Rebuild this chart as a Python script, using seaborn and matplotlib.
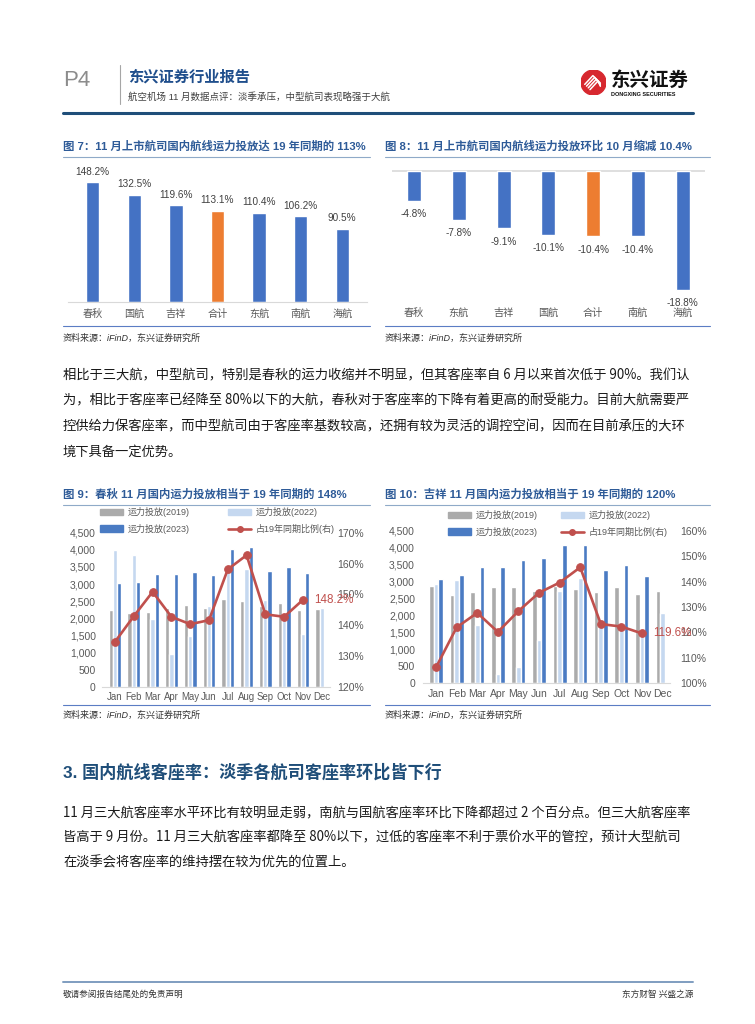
import numpy as np
import pandas as pd
import matplotlib
matplotlib.use('Agg')
import matplotlib.pyplot as plt
import seaborn as sns
from matplotlib.patches import Patch, Circle
from matplotlib.lines import Line2D
from matplotlib.ticker import FuncFormatter, MultipleLocator

# ---- data ----
fig7_airlines = ['春秋', '国航', '吉祥', '合计', '东航', '南航', '海航']
fig7_pct = [148.2, 132.5, 119.6, 113.1, 110.4, 106.2, 90.5]

fig8_airlines = ['春秋', '东航', '吉祥', '国航', '合计', '南航', '海航']
fig8_pct = [-4.8, -7.8, -9.1, -10.1, -10.4, -10.4, -18.8]

months = ['Jan', 'Feb', 'Mar', 'Apr', 'May', 'Jun', 'Jul', 'Aug', 'Sep', 'Oct', 'Nov', 'Dec']

# 春秋 capacity (left axis) and Nov-vs-2019 ratio (right axis, %)
spring_2019 = [2240, 2143, 2182, 2299, 2386, 2299, 2552, 2503, 2357, 2454, 2240, 2260]
spring_2022 = [3993, 3838, 1967, 964, 1480, 2357, 3526, 3438, 2532, 2050, 1539, 2299]
spring_2023 = [3019, 3058, 3282, 3282, 3350, 3263, 4022, 4071, 3380, 3487, 3321, np.nan]
spring_ratio = [134.6, 142.9, 150.8, 142.7, 140.3, 141.6, 158.1, 162.7, 143.5, 142.7, 148.2]

# 吉祥
juneyao_2019 = [2870, 2615, 2693, 2851, 2831, 2723, 2870, 2792, 2685, 2850, 2634, 2733]
juneyao_2022 = [2929, 3047, 1720, 275, 472, 1278, 2733, 3116, 1817, 1670, 1475, 2065]
juneyao_2023 = [3067, 3185, 3441, 3421, 3637, 3696, 4079, 4079, 3332, 3480, 3165, np.nan]
juneyao_ratio = [106.3, 122.0, 127.7, 120.2, 128.4, 135.6, 139.6, 145.6, 123.3, 122.3, 119.6]

series_names = ['运力投放(2019)', '运力投放(2022)', '运力投放(2023)']
ratio_name = '占19年同期比例(右)'

para1 = [
    '相比于三大航，中型航司，特别是春秋的运力收缩并不明显，但其客座率自 6 月以来首次低于 90%。我们认',
    '为，相比于客座率已经降至 80%以下的大航，春秋对于客座率的下降有着更高的耐受能力。目前大航需要严',
    '控供给力保客座率，而中型航司由于客座率基数较高，还拥有较为灵活的调控空间，因而在目前承压的大环',
    '境下具备一定优势。',
]
para2 = [
    '11 月三大航客座率水平环比有较明显走弱，南航与国航客座率环比下降都超过 2 个百分点。但三大航客座率',
    '皆高于 9 月份。11 月三大航客座率都降至 80%以下，过低的客座率不利于票价水平的管控，预计大型航司',
    '在淡季会将客座率的维持摆在较为优先的位置上。',
]

# ---- style ----
sns.set_style('white')
plt.rcParams['font.family'] = ['Liberation Sans', 'Noto Sans CJK SC', 'DejaVu Sans']
plt.rcParams['axes.unicode_minus'] = False

BLUE = '#4472C4'
ORANGE = '#ED7D31'
GRAY = '#ABABAB'
LIGHT = '#C5D8F0'
DARK = '#4A7BC3'
RED = '#C0504D'
TITLE = '#2E5B98'
TICK = '#595959'

W, H = 755, 1024
fig = plt.figure(figsize=(W / 100, H / 100), dpi=100)


def box(x0, y0, x1, y1):
    return fig.add_axes([x0 / W, 1 - y1 / H, (x1 - x0) / W, (y1 - y0) / H])


def put(x, y, s, **kw):
    kw.setdefault('va', 'center')
    fig.text(x / W, 1 - y / H, s, **kw)


def hline(x0, x1, y, color, lw):
    fig.add_artist(Line2D([x0 / W, x1 / W], [1 - y / H, 1 - y / H], color=color, lw=lw))


# ---- header ----
put(63, 80, 'P4', fontsize=16, color='#8C8C8C')
fig.add_artist(Line2D([120 / W, 120 / W], [1 - 65 / H, 1 - 104 / H], color='#A6A6A6', lw=0.8))
put(128, 77, '东兴证券行业报告', fontsize=11, weight='bold', color='#1F4E8C')
put(128, 97, '航空机场 11 月数据点评：淡季承压，中型航司表现略强于大航', fontsize=6.8, color='#404040')
hline(63, 693, 113, '#1F4E79', 2.2)

logo = box(581, 70, 606, 95)
logo.set_xlim(-1, 1)
logo.set_ylim(-1, 1)
logo.set_aspect('equal')
logo.axis('off')
logo.add_patch(Circle((0, 0), 1, color='#D7282F'))
for k in range(4):
    d = k * 0.14
    logo.plot([-0.7 + d, -0.05 + d, 0.55], [-0.15 - d, 0.55 - d, -0.05 - d * 0.6], color='white', lw=1.1)
put(611, 81, '东兴证券', fontsize=14, weight='bold', color='#111111')
put(611, 94.5, 'DONGXING SECURITIES', fontsize=4, weight='bold', color='#111111')


def frame(x0, x1, y_title, y_top, y_bottom, y_src, title):
    put(x0, y_title, title, fontsize=8.2, weight='bold', color=TITLE)
    hline(x0, x1, y_top, '#8FAAC8', 0.8)
    hline(x0, x1, y_bottom, '#5B7DC4', 0.8)
    put(x0, y_src, '资料来源：iFinD，东兴证券研究所', fontsize=6.5, style='italic', color='#333333')


# ---- Figure 7 ----
frame(63, 370, 146, 157, 326, 338, '图 7：11 月上市航司国内航线运力投放达 19 年同期的 113%')
ax7 = box(68, 160, 367, 302)
df7 = pd.DataFrame({'airline': fig7_airlines, 'pct': fig7_pct})
pal7 = [ORANGE if a == '合计' else BLUE for a in fig7_airlines]
sns.barplot(data=df7, x='airline', y='pct', hue='airline', palette=pal7, width=0.32,
            saturation=1, legend=False, ax=ax7)
for c in ax7.containers:
    ax7.bar_label(c, fmt='%.1f%%', padding=4, fontsize=7.2, color='#404040')
ax7.set_xlim(-0.595, 6.595)
ax7.set_ylim(0, 175.8)
ax7.set_xlabel('')
ax7.set_ylabel('')
ax7.set_yticks([])
ax7.tick_params(axis='x', length=0, pad=5, labelsize=7.3, labelcolor=TICK)
sns.despine(ax=ax7, left=True)
ax7.spines['bottom'].set_color('#D9D9D9')

# ---- Figure 8 ----
frame(385, 710, 146, 157, 326, 338, '图 8：11 月上市航司国内航线运力投放环比 10 月缩减 10.4%')
ax8 = box(391.7, 165, 705, 305)
df8 = pd.DataFrame({'airline': fig8_airlines, 'pct': fig8_pct})
pal8 = [ORANGE if a == '合计' else BLUE for a in fig8_airlines]
sns.barplot(data=df8, x='airline', y='pct', hue='airline', palette=pal8, width=0.31,
            saturation=1, legend=False, ax=ax8)
for c in ax8.containers:
    ax8.bar_label(c, fmt='%.1f%%', padding=6, fontsize=7.2, color='#404040')
ax8.axhline(0, color='#D9D9D9', lw=1.2, zorder=0)
ax8.set_xlim(-0.5, 6.5)
ax8.set_ylim(-21.25, 0.9)
ax8.set_xlabel('')
ax8.set_ylabel('')
ax8.set_yticks([])
ax8.tick_params(axis='x', length=0, pad=2, labelsize=7.3, labelcolor=TICK)
sns.despine(ax=ax8, left=True, bottom=True)


# ---- Figures 9 / 10 ----
def capacity(rect, xlim, v2019, v2022, v2023, ratio, rlim, lpad, rpad, leg_xy, colsp, xsize):
    ax = box(*rect)
    df = pd.DataFrame({
        'month': months * 3,
        'series': [s for s in series_names for _ in months],
        'value': list(v2019) + list(v2022) + list(v2023),
    })
    sns.barplot(data=df, x='month', y='value', hue='series', order=months,
                hue_order=series_names, palette=[GRAY, LIGHT, DARK], width=0.68,
                saturation=1, errorbar=None, legend=False, ax=ax)
    ax.set_xlim(*xlim)
    ax.set_ylim(0, 4500)
    ax.yaxis.set_major_locator(MultipleLocator(500))
    ax.yaxis.set_major_formatter(FuncFormatter(lambda v, p: f'{v:,.0f}'))
    ax.set_xlabel('')
    ax.set_ylabel('')
    ax.tick_params(axis='both', length=0, labelsize=7.5, labelcolor=TICK)
    ax.tick_params(axis='y', pad=lpad)
    ax.tick_params(axis='x', pad=4, labelsize=xsize)
    sns.despine(ax=ax, left=True)
    ax.spines['bottom'].set_color('#D9D9D9')

    ax2 = ax.twinx()
    line_months = months[:len(ratio)]
    sns.lineplot(x=line_months, y=ratio, ax=ax2, color=RED, lw=1.9, marker='o',
                 markersize=5.5, markeredgecolor=RED, sort=False)
    ax2.set_ylim(*rlim)
    ax2.yaxis.set_major_locator(MultipleLocator(10))
    ax2.yaxis.set_major_formatter(FuncFormatter(lambda v, p: f'{v:.0f}%'))
    ax2.tick_params(axis='y', length=0, labelsize=7.5, labelcolor=TICK, pad=rpad)
    ax2.set_ylabel('')
    for s in ax2.spines.values():
        s.set_visible(False)
    ax2.annotate(f'{ratio[-1]:.1f}%', xy=(line_months[-1], ratio[-1]), xytext=(8, 0),
                 textcoords='offset points', color=RED, fontsize=8.4, va='center', ha='left')

    handles = [Patch(color=GRAY), Patch(color=DARK), Patch(color=LIGHT),
               Line2D([], [], color=RED, lw=1.9, marker='o', markersize=4)]
    labels = [series_names[0], series_names[2], series_names[1], ratio_name]
    fig.legend(handles, labels, loc='upper left', ncol=2, frameon=False,
               bbox_to_anchor=(leg_xy[0] / W, 1 - leg_xy[1] / H), borderpad=0,
               borderaxespad=0, fontsize=6.5, handlelength=2.6, handleheight=0.7,
               handletextpad=0.5, labelspacing=0.75, columnspacing=colsp,
               labelcolor=TICK)
    return ax


frame(63, 370, 494, 505, 705, 715, '图 9：春秋 11 月国内运力投放相当于 19 年同期的 148%')
capacity((101.7, 532.7, 330, 686.7), (-0.71, 11.44), spring_2019, spring_2022, spring_2023,
         spring_ratio, (120, 170), 4.3, 5.5, (100, 507), 4.2, 6.9)

frame(385, 710, 494, 505, 705, 715, '图 10：吉祥 11 月国内运力投放相当于 19 年同期的 120%')
capacity((423.3, 530.7, 670, 683.3), (-0.62, 11.36), juneyao_2019, juneyao_2022, juneyao_2023,
         juneyao_ratio, (100, 160), 6, 7, (448, 510), 2.5, 7.5)

# ---- body text ----
body_font = ['Noto Sans CJK SC', 'DejaVu Sans']
for i, line in enumerate(para1):
    put(63, 375 + i * 25.5, line, fontsize=9.57, color='#1A1A1A', family=body_font)

put(63, 772, '3. 国内航线客座率：淡季各航司客座率环比皆下行', fontsize=12.3, weight='bold', color='#1F4E79')

for i, line in enumerate(para2):
    put(63, 813 + i * 24.5, line, fontsize=9.57, color='#1A1A1A', family=body_font)

# ---- footer ----
hline(63, 693, 982, '#7F9DC0', 1.4)
put(63, 994, '敬请参阅报告结尾处的免责声明', fontsize=6.2, color='#333333')
put(693, 994, '东方财智 兴盛之源', fontsize=6.2, color='#333333', ha='right')

fig.savefig('out.png', dpi=100)
